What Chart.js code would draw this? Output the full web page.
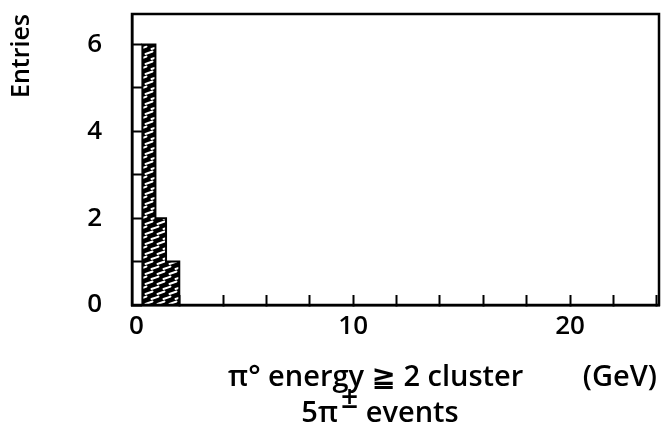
<!DOCTYPE html>
<html>
<head>
<meta charset="utf-8">
<script src="https://cdn.jsdelivr.net/npm/chart.js@4/dist/chart.umd.min.js"></script>
<style>
  html, body { margin: 0; padding: 0; background: #fff; }
  canvas { display: block; }
</style>
</head>
<body>
<canvas id="c" width="664" height="434"></canvas>
<script>
// Histogram of pi0 energy (>= 2 clusters), 5 charged-pion events
const binEdges = [0.28, 0.88, 1.37, 1.98];   // GeV
const entries = [6, 2, 1];
const yTickLabels = [0, 2, 4, 6];
const xTickLabels = [0, 10, 20];
const xRange = [-0.2, 24.1];
const yRange = [0, 6.7];

const FONT = "'Open Sans', 'DejaVu Sans', sans-serif";
const WEIGHT = '600';

// Step outline: start on the axis, then one point per bin edge
const histPoints = [{ x: binEdges[0], y: 0 }];
entries.forEach((n, i) => histPoints.push({ x: binEdges[i], y: n }));
histPoints.push({ x: binEdges[binEdges.length - 1], y: 0 });

// Dense slanted hatching: black ground with short white slashes
function hatchPattern() {
  const t = document.createElement('canvas');
  t.width = 12; t.height = 10;
  const g = t.getContext('2d');
  g.fillStyle = '#000';
  g.fillRect(0, 0, 12, 10);
  g.strokeStyle = '#fff';
  g.lineWidth = 1.9;
  g.lineCap = 'round';
  g.beginPath();
  g.moveTo(1.5, 4); g.lineTo(8.5, 1.5);
  g.moveTo(7.5, 9); g.lineTo(14.5, 6.5);
  g.moveTo(-4.5, 9); g.lineTo(2.5, 6.5);
  g.stroke();
  return g.createPattern(t, 'repeat');
}

// Remove the overflow padding the scales reserve for their labels
function noPad(s) {
  s.paddingTop = 0; s.paddingBottom = 0;
  s.paddingLeft = 0; s.paddingRight = 0;
}

// Box frame plus the bottom captions
const framePlugin = {
  id: 'frame',
  afterDraw(chart) {
    const { ctx, chartArea: a } = chart;
    ctx.save();
    ctx.strokeStyle = '#000';
    ctx.lineWidth = 2.5;
    ctx.strokeRect(a.left, a.top, a.right - a.left, a.bottom - a.top);

    const big = WEIGHT + ' 29px ' + FONT;
    const supFont = WEIGHT + ' 30px ' + FONT;
    ctx.fillStyle = '#000';
    ctx.textBaseline = 'alphabetic';
    ctx.font = big;
    ctx.textAlign = 'left';
    ctx.fillText('\u03C0\u00B0 energy \u2267 2 cluster', 228, 386);
    ctx.textAlign = 'right';
    ctx.fillText('(GeV)', 657, 386);

    // 5π± events, with the ± raised
    const part1 = '5\u03C0', sup = '\u00B1', part2 = ' events';
    ctx.font = big;
    const w1 = ctx.measureText(part1).width;
    const w3 = ctx.measureText(part2).width;
    ctx.font = supFont;
    const w2 = ctx.measureText(sup).width;
    let x = 380 - (w1 + w2 + 3 + w3) / 2;
    ctx.textAlign = 'left';
    ctx.font = big;
    ctx.fillText(part1, x, 422);
    x += w1 + 3;
    ctx.font = supFont;
    ctx.fillText(sup, x, 408);
    x += w2;
    ctx.font = big;
    ctx.fillText(part2, x, 422);
    ctx.restore();
  }
};

new Chart(document.getElementById('c'), {
  type: 'line',
  data: {
    datasets: [{
      data: histPoints,
      stepped: true,
      borderColor: '#000',
      borderWidth: 2,
      backgroundColor: hatchPattern(),
      fill: 'origin',
      pointRadius: 0,
      tension: 0
    }]
  },
  options: {
    responsive: false,
    animation: false,
    devicePixelRatio: 1,
    layout: { padding: { left: 0, top: 14, right: 5, bottom: 0 } },
    plugins: { legend: { display: false }, tooltip: { enabled: false } },
    scales: {
      x: {
        type: 'linear',
        min: xRange[0],
        max: xRange[1],
        afterFit(s) { s.height = 129; noPad(s); },
        afterBuildTicks(s) {
          const t = [];
          for (let v = 2; v <= s.max; v += 2) t.push({ value: v });
          s.ticks = t;
        },
        border: { display: true, color: '#000', width: 2.5 },
        grid: {
          display: true,
          drawOnChartArea: false,
          drawTicks: true,
          tickLength: -10,
          tickWidth: 2,
          tickColor: '#000'
        },
        ticks: {
          autoSkip: false,
          maxRotation: 0,
          padding: 20,
          color: '#000',
          font: { family: FONT, size: 26, weight: WEIGHT },
          callback: v => ''
        }
      },
      y: {
        min: yRange[0],
        max: yRange[1],
        afterFit(s) { s.width = 132; noPad(s); },
        afterBuildTicks(s) {
          const t = [];
          for (let v = 0; v <= 6; v++) t.push({ value: v });
          s.ticks = t;
        },
        border: { display: true, color: '#000', width: 2.5 },
        grid: {
          display: true,
          drawOnChartArea: false,
          drawTicks: true,
          tickLength: -10,
          tickWidth: 2,
          tickColor: '#000'
        },
        ticks: {
          autoSkip: false,
          padding: 40,
          color: '#000',
          font: { family: FONT, size: 26, weight: WEIGHT },
          callback: v => yTickLabels.includes(v) ? String(v) : ''
        },
        title: {
          display: true,
          text: 'Entries',
          align: 'end',
          color: '#000',
          font: { family: FONT, size: 25, weight: WEIGHT },
          padding: { top: 7, bottom: 0 }
        }
      }
    }
  },
  plugins: [framePlugin, {
    // x labels at 0, 10, 20 placed through the x scale
    id: 'xLabels',
    afterDraw(chart) {
      const s = chart.scales.x, ctx = chart.ctx;
      ctx.save();
      ctx.fillStyle = '#000';
      ctx.font = WEIGHT + ' 26px ' + FONT;
      ctx.textAlign = 'center';
      ctx.textBaseline = 'top';
      xTickLabels.forEach(v => ctx.fillText(String(v), s.getPixelForValue(v), s.top + 9));
      ctx.restore();
    }
  }]
});
</script>
</body>
</html>
